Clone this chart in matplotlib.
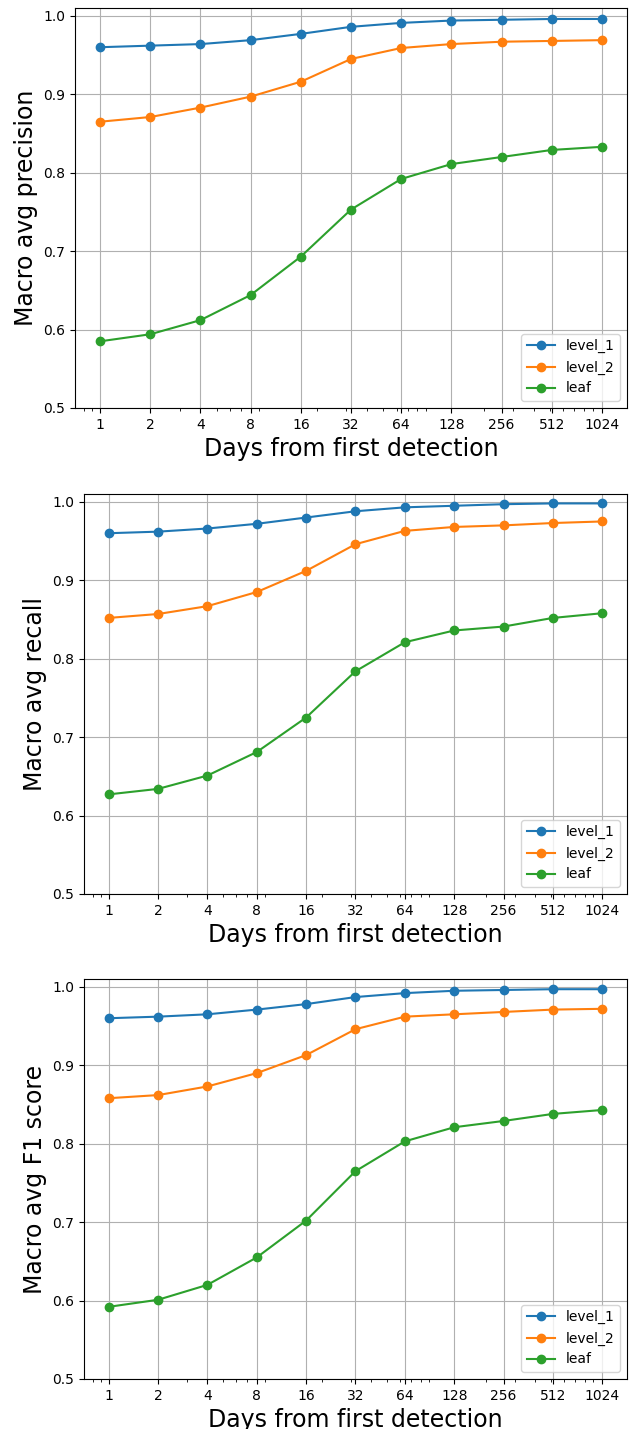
import matplotlib
matplotlib.use("Agg")
import matplotlib.pyplot as plt

days = [1, 2, 4, 8, 16, 32, 64, 128, 256, 512, 1024]
day_labels = [str(d) for d in days]

precision_level_1 = [0.960, 0.962, 0.964, 0.969, 0.977, 0.986, 0.991, 0.994, 0.995, 0.996, 0.996]
precision_level_2 = [0.865, 0.871, 0.883, 0.897, 0.916, 0.945, 0.959, 0.964, 0.967, 0.968, 0.969]
precision_leaf = [0.585, 0.594, 0.612, 0.644, 0.693, 0.753, 0.792, 0.811, 0.820, 0.829, 0.833]

recall_level_1 = [0.960, 0.962, 0.966, 0.972, 0.980, 0.988, 0.993, 0.995, 0.997, 0.998, 0.998]
recall_level_2 = [0.852, 0.857, 0.867, 0.885, 0.912, 0.946, 0.963, 0.968, 0.970, 0.973, 0.975]
recall_leaf = [0.627, 0.634, 0.651, 0.681, 0.725, 0.784, 0.821, 0.836, 0.841, 0.852, 0.858]

f1_level_1 = [0.960, 0.962, 0.965, 0.971, 0.978, 0.987, 0.992, 0.995, 0.996, 0.997, 0.997]
f1_level_2 = [0.858, 0.862, 0.873, 0.890, 0.913, 0.946, 0.962, 0.965, 0.968, 0.971, 0.972]
f1_leaf = [0.592, 0.601, 0.620, 0.655, 0.702, 0.765, 0.803, 0.821, 0.829, 0.838, 0.843]

panels = [
    ("Macro avg precision", precision_level_1, precision_level_2, precision_leaf),
    ("Macro avg recall", recall_level_1, recall_level_2, recall_leaf),
    ("Macro avg F1 score", f1_level_1, f1_level_2, f1_leaf),
]

fig = plt.figure(figsize=(6.33, 14.29), dpi=100)
# [left, bottom, width, height] for each panel
rects = [
    [0.1185, 0.7145, 0.8720, 0.2799],
    [0.1327, 0.3744, 0.8578, 0.2799],
    [0.1327, 0.0350, 0.8578, 0.2799],
]

for (ylabel, l1, l2, leaf), rect in zip(panels, rects):
    ax = fig.add_axes(rect)
    ax.plot(days, l1, marker='o', label='level_1')
    ax.plot(days, l2, marker='o', label='level_2')
    ax.plot(days, leaf, marker='o', label='leaf')
    ax.set_xscale('log')
    ax.set_xticks(days)
    ax.set_xticklabels(day_labels)
    ax.set_ylim(0.5, 1.01)
    ax.set_yticks([0.5, 0.6, 0.7, 0.8, 0.9, 1.0])
    ax.grid(True)
    ax.set_xlabel('Days from first detection', fontsize=17)
    ax.set_ylabel(ylabel, fontsize=17)
    ax.legend(loc='lower right')

plt.savefig("out.png", dpi=100)
